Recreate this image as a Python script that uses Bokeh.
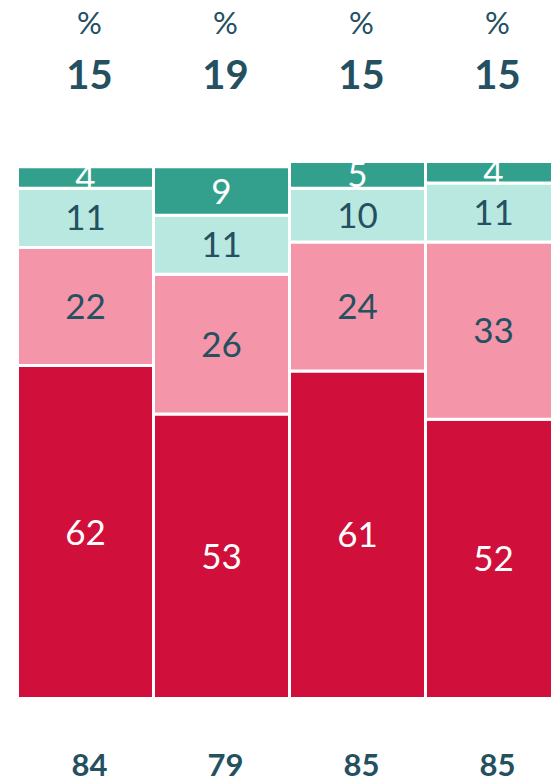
import numpy as np
from bokeh.plotting import figure
from bokeh.models import ColumnDataSource, Range1d
from bokeh.core.properties import value
from bokeh.embed import file_html
from bokeh.resources import INLINE

# ---- data ----
columns = ["1", "2", "3", "4"]
seg_red = [62, 53, 61, 52]
seg_pink = [22, 26, 24, 33]
seg_light = [11, 11, 10, 11]
seg_dark = [4, 9, 5, 4]
top_pct = [15, 19, 15, 15]
bottom_n = [84, 79, 85, 85]

series = [seg_red, seg_pink, seg_light, seg_dark]
fills = ["#D0103A", "#F595A9", "#B9E8E0", "#33A08D"]
label_colors = ["#FFFFFF", "#24505F", "#24505F", "#FFFFFF"]
TEXT = "#24505F"
FONT = "Lato"

W, H = 552, 782
PX_PER_UNIT = 5.37
BASE_FY = 698.0
PITCH = 136.0
x0 = -85.0 / PITCH
x1 = x0 + W / PITCH
y1 = BASE_FY / PX_PER_UNIT
y0 = -(H - BASE_FY) / PX_PER_UNIT

p = figure(width=W, height=H, output_backend="svg", toolbar_location=None,
           x_range=Range1d(x0, x1), y_range=Range1d(y0, y1), min_border=0,
           background_fill_color="white", border_fill_color="white")
p.outline_line_color = None
p.axis.visible = False
p.grid.visible = False

xs = np.arange(len(columns))
bottom = np.zeros(len(columns))
for vals, fc, lc in zip(series, fills, label_colors):
    vals = np.array(vals, dtype=float)
    top = bottom + vals
    src = ColumnDataSource(dict(x=xs, bottom=bottom, top=top,
                                ym=(bottom + top) / 2,
                                lab=[str(int(v)) for v in vals]))
    p.vbar(x="x", bottom="bottom", top="top", width=1.0, source=src,
           fill_color=fc, line_color="white", line_width=3)
    p.text(x="x", y="ym", text="lab", source=src, text_align="center",
           text_baseline="middle", text_color=lc, text_font=value(FONT),
           text_font_size="35px")
    bottom = top

def y_of(page_y):
    return (BASE_FY - page_y) / PX_PER_UNIT

lab_x = xs + 4 / PITCH
tsrc = ColumnDataSource(dict(x=lab_x, y1=[y_of(21)] * 4, y2=[y_of(74)] * 4,
                             y3=[y_of(764)] * 4,
                             pct=["%"] * 4,
                             t=[str(v) for v in top_pct],
                             b=[str(v) for v in bottom_n]))
p.text(x="x", y="y1", text="pct", source=tsrc, text_align="center",
       text_baseline="middle", text_color=TEXT, text_font=value(FONT),
       text_font_size="31px")
p.text(x="x", y="y2", text="t", source=tsrc, text_align="center",
       text_baseline="middle", text_color=TEXT, text_font=value(FONT),
       text_font_size="40px", text_font_style="bold")
p.text(x="x", y="y3", text="b", source=tsrc, text_align="center",
       text_baseline="middle", text_color=TEXT, text_font=value(FONT),
       text_font_size="31px", text_font_style="bold")

open("out.html", "w").write(file_html(p, INLINE))
